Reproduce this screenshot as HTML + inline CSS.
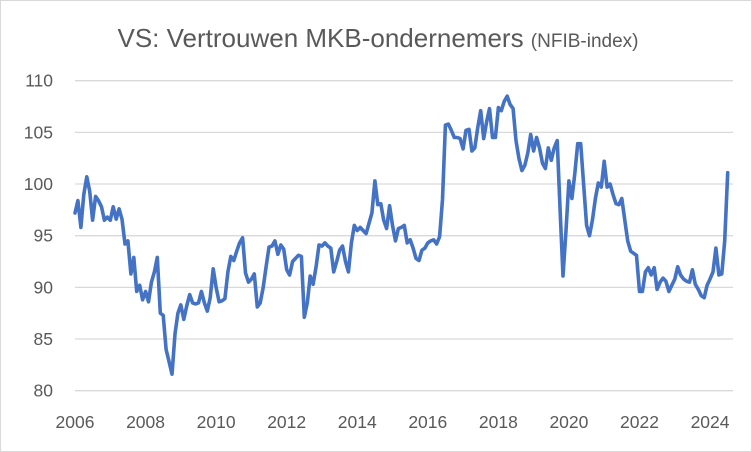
<!DOCTYPE html>
<html><head><meta charset="utf-8"><style>
html,body{margin:0;padding:0;background:#fff;}
svg{display:block;font-family:"Liberation Sans",sans-serif;}
</style></head><body>
<svg id="chart" width="752" height="452" viewBox="0 0 752 452">
<rect x="0.5" y="0.5" width="751" height="451" fill="#fff" stroke="#d9d9d9"/>
<text x="378" y="47" text-anchor="middle" font-size="26" fill="#595959">VS: Vertrouwen MKB-ondernemers <tspan font-size="19">(NFIB-index)</tspan></text>
<g id="grid"></g><g id="ylab"></g><g id="xlab"></g><g id="series"></g>
</svg>
<script>
const yTicks=[80,85,90,95,100,105,110];
const xTicks=[2006,2008,2010,2012,2014,2016,2018,2020,2022,2024];
const startYear=2006;
const values=[
97.2,98.4,95.8,99.0,100.7,99.3,96.5,98.8,98.4,97.8,96.5,96.8,
96.5,97.8,96.6,97.6,96.6,94.2,94.5,91.3,92.9,89.6,90.2,88.8,
89.6,88.6,90.5,91.5,92.9,87.5,87.3,84.0,82.8,81.6,85.5,87.5,
88.3,86.9,88.2,89.3,88.5,88.4,88.5,89.6,88.5,87.7,89.0,91.8,
90.0,88.6,88.7,88.9,91.5,93.0,92.6,93.5,94.3,94.8,91.4,90.5,
90.8,91.3,88.1,88.5,90.0,92.0,93.9,94.0,94.5,93.2,94.1,93.7,
91.7,91.2,92.5,92.8,93.1,93.0,87.1,88.5,91.1,90.3,92.0,94.1,
94.0,94.3,94.0,93.8,91.5,92.5,93.6,94.0,92.5,91.5,94.3,96.0,
95.5,95.8,95.5,95.2,96.2,97.2,100.3,98.0,98.1,96.5,95.7,97.9,
96.0,94.5,95.7,95.8,96.0,94.3,94.6,93.8,92.8,92.6,93.6,93.8,
94.3,94.5,94.6,94.2,94.9,98.5,105.7,105.8,105.2,104.5,104.5,104.4,
103.4,105.2,105.3,103.2,103.5,105.5,107.1,104.4,106.0,107.3,104.5,104.5,
107.4,107.1,108.0,108.5,107.7,107.3,104.2,102.5,101.3,101.8,103.0,104.8,
103.2,104.5,103.5,102.0,101.5,103.5,102.3,103.5,104.2,97.5,91.1,95.5,
100.3,98.6,101.0,103.9,103.9,100.0,96.0,95.0,96.5,98.6,100.1,99.7,
102.2,99.7,100.0,99.0,98.1,98.0,98.6,96.5,94.5,93.5,93.3,93.1,
89.6,89.6,91.5,91.9,91.2,91.9,89.8,90.5,90.9,90.6,89.6,90.2,
90.8,92.0,91.2,90.8,90.6,90.5,91.7,90.3,89.8,89.2,89.0,90.2,
90.8,91.5,93.8,91.2,91.3,94.5,101.1];
const X0=75,PX_PER_YEAR=35.28,Y_TOP=80.7,Y_BOT=390.7,VMIN=80,VMAX=110,PR=733;
const xs=t=>X0+(t-startYear)*PX_PER_YEAR;
const ys=v=>Y_BOT-(v-VMIN)/(VMAX-VMIN)*(Y_BOT-Y_TOP);
const NS='http://www.w3.org/2000/svg';
const g=id=>document.getElementById(id);
yTicks.forEach(v=>{
 const l=document.createElementNS(NS,'line');
 l.setAttribute('x1',X0);l.setAttribute('x2',PR);l.setAttribute('y1',ys(v));l.setAttribute('y2',ys(v));
 l.setAttribute('stroke','#d9d9d9');l.setAttribute('stroke-width','1.3');
 
 
 g('grid').appendChild(l);
 const t=document.createElementNS(NS,'text');
 t.setAttribute('x',53);t.setAttribute('y',ys(v)+6);t.setAttribute('text-anchor','end');
 t.setAttribute('font-size','17.5');t.setAttribute('fill','#595959');t.textContent=v;
 
 
 g('ylab').appendChild(t);
});
xTicks.forEach(y=>{
 const t=document.createElementNS(NS,'text');
 t.setAttribute('x',xs(y));t.setAttribute('y',428);t.setAttribute('text-anchor','middle');
 t.setAttribute('font-size','17.5');t.setAttribute('fill','#595959');t.textContent=y;
 
 
 g('xlab').appendChild(t);
});
const pts=values.map((v,i)=>xs(startYear+i/12).toFixed(1)+','+ys(v).toFixed(1)).join(' ');
const pl=document.createElementNS(NS,'polyline');
pl.setAttribute('points',pts);pl.setAttribute('fill','none');pl.setAttribute('stroke','#4472C4');
pl.setAttribute('stroke-width','3.6');pl.setAttribute('stroke-linejoin','round');pl.setAttribute('stroke-linecap','round');


g('series').appendChild(pl);
</script>
</body></html>
